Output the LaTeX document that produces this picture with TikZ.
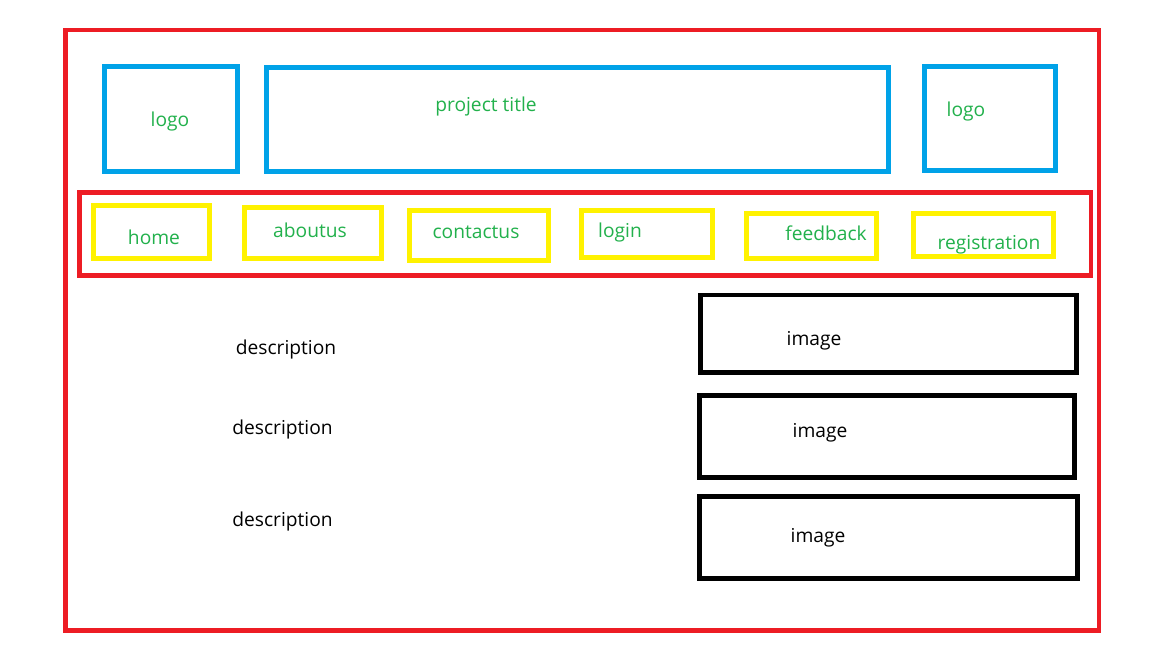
\documentclass[tikz,border=0pt]{standalone}
\usepackage{fontspec}
\setmainfont{Open Sans}
\definecolor{pred}{RGB}{237,28,36}
\definecolor{pblue}{RGB}{0,162,232}
\definecolor{pyellow}{RGB}{255,242,0}
\definecolor{pgreen}{RGB}{34,177,76}
\tikzset{
  boxbase/.style={rectangle, inner sep=0pt, outer sep=0pt},
  redbox/.style={boxbase, draw=pred, line width=4.7pt},
  bluebox/.style={boxbase, draw=pblue, line width=5pt},
  yelbox/.style={boxbase, draw=pyellow, line width=5pt},
  blkbox/.style={boxbase, draw=black, line width=4.7pt},
  gtxt/.style={anchor=base, inner sep=0pt, text=pgreen, font=\fontsize{19.2}{23}\selectfont},
  ktxt/.style={anchor=base, inner sep=0pt, text=black, font=\fontsize{19.2}{23}\selectfont},
}
\begin{document}
\begin{tikzpicture}[x=1pt,y=-1pt]
\useasboundingbox[fill=white] (0,0) rectangle (1152,648);
% outer frame
\node[redbox, minimum width=1033.5pt, minimum height=600.5pt] (frame) at (582.25,330.25) {};
% header
\node[bluebox, minimum width=133pt, minimum height=105pt] (logoL) at (171,119) {};
\node[bluebox, minimum width=622pt, minimum height=104pt] (title) at (577.5,119.5) {};
\node[bluebox, minimum width=131pt, minimum height=104pt] (logoR) at (990,118.5) {};
\node[gtxt] (tlogoL) at (170,126) {logo};
\node[gtxt] (ttitle) at (486,111) {project title};
\node[gtxt] (tlogoR) at (966,116) {logo};
% nav bar
\node[redbox, minimum width=1011.5pt, minimum height=83pt] (nav) at (585.25,234) {};
\node[yelbox, minimum width=116pt, minimum height=53pt] (home) at (151.5,232) {};
\node[yelbox, minimum width=137pt, minimum height=51pt] (about) at (313,233) {};
\node[yelbox, minimum width=138.5pt, minimum height=49.5pt] (contact) at (478.75,235.25) {};
\node[yelbox, minimum width=130.5pt, minimum height=47pt] (login) at (646.75,234) {};
\node[yelbox, minimum width=130pt, minimum height=44.5pt] (feed) at (811.5,235.75) {};
\node[yelbox, minimum width=140pt, minimum height=43pt] (reg) at (983.5,235) {};
\node[gtxt] (thome) at (154,244) {home};
\node[gtxt] (tabout) at (310,237.7) {aboutus};
\node[gtxt] (tcontact) at (476,238.7) {contactus};
\node[gtxt] (tlogin) at (620,237.7) {login};
\node[gtxt] (tfeed) at (826,240.7) {feedback};
\node[gtxt] (treg) at (989,249) {registration};
% content
\node[ktxt] (d1) at (286,354.5) {description};
\node[ktxt] (d2) at (282.5,434) {description};
\node[ktxt] (d3) at (282.5,526.7) {description};
\node[blkbox, minimum width=376pt, minimum height=77.5pt] (img1) at (888.5,333.75) {};
\node[blkbox, minimum width=375pt, minimum height=82pt] (img2) at (887,436.5) {};
\node[blkbox, minimum width=378pt, minimum height=82pt] (img3) at (888.5,537.5) {};
\node[ktxt] (ti1) at (814,345) {image};
\node[ktxt] (ti2) at (820,437.7) {image};
\node[ktxt] (ti3) at (818,542.7) {image};
\end{tikzpicture}
\end{document}
